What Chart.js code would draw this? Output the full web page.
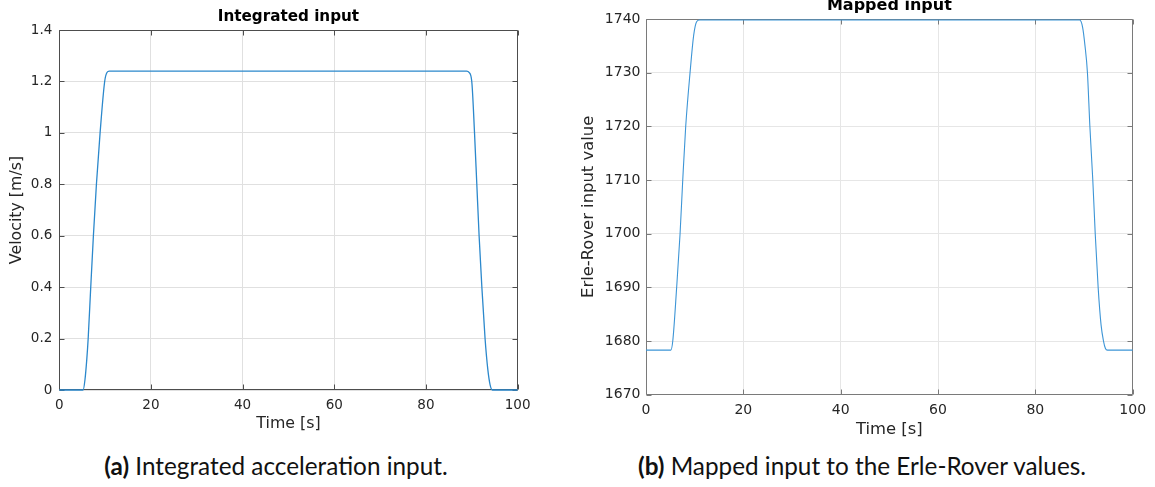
<!DOCTYPE html>
<html>
<head>
<meta charset="utf-8">
<script src="https://cdn.jsdelivr.net/npm/chart.js@4.4.1/dist/chart.umd.min.js"></script>
<style>
  html, body { margin: 0; padding: 0; background: #ffffff; width: 1155px; height: 487px; overflow: hidden; }
  #wrap { position: relative; width: 1155px; height: 487px; }
  canvas { position: absolute; }
  #c1 { left: 0px; top: 0px; }
  #c2 { left: 560px; top: -11px; }
  .cap { position: absolute; top: 450px; font-family: "Lato", "Open Sans", sans-serif; font-size: 24.3px; line-height: 32px; color: #111; white-space: nowrap; transform: translateX(-50%); }
  .cap b { font-weight: 700; }
</style>
</head>
<body>
<div id="wrap">
  <canvas id="c1" width="545" height="440"></canvas>
  <canvas id="c2" width="595" height="451"></canvas>
  <div class="cap" style="left:276px;"><b>(a)</b> Integrated acceleration input.</div>
  <div class="cap" style="left:862px;"><b>(b)</b> Mapped input to the Erle-Rover values.</div>
</div>
<script>
// ---- data ----
const timeA    = [0, 5.2, 5.6, 6.0, 6.3, 6.86, 7.44, 8.1, 8.9, 9.9, 10.4, 10.9, 88.9, 89.4, 90.0, 90.6, 91.1, 91.6, 92.2, 92.9, 93.5, 94.0, 94.5, 100];
const velocity = [0, 0, 0.04, 0.12, 0.2, 0.4, 0.6, 0.8, 1.0, 1.2, 1.235, 1.24, 1.24, 1.235, 1.2, 1.0, 0.8, 0.6, 0.4, 0.2, 0.08, 0.02, 0, 0];

const timeB  = [0, 5.1, 5.5, 6.3, 7.0, 7.55, 8.16, 9.05, 9.8, 10.4, 11.0, 89.1, 89.7, 90.2, 90.7, 91.2, 91.8, 92.3, 92.9, 93.5, 94.0, 94.4, 94.8, 100];
const mapped = [1678.3, 1678.3, 1680, 1690, 1700, 1710, 1720, 1730, 1737, 1739.5, 1739.8, 1739.8, 1738.5, 1735, 1730, 1720, 1710, 1700, 1690, 1683, 1680, 1678.6, 1678.3, 1678.3];

const xTicks  = [0, 20, 40, 60, 80, 100];
const yTicksA = [0, 0.2, 0.4, 0.6, 0.8, 1, 1.2, 1.4];
const yTicksB = [1670, 1680, 1690, 1700, 1710, 1720, 1730, 1740];

const titleA = "Integrated input", titleB = "Mapped input";
const xLabel = "Time [s]";
const yLabelA = "Velocity [m/s]", yLabelB = "Erle-Rover input value";

// ---- plugin: MATLAB-style box with inward ticks (drawn under the data line) ----
const boxPlugin = {
  id: 'box',
  beforeDatasetsDraw(chart, args, opts) {
    const {ctx, chartArea: a, scales} = chart;
    ctx.save();
    ctx.strokeStyle = opts.color;
    ctx.lineWidth = 1;
    const L = Math.round(a.left) + 0.5, R = Math.round(a.right) - 0.5;
    const T = Math.round(a.top) + 0.5, B = Math.round(a.bottom) - 0.5;
    ctx.beginPath();
    ctx.rect(L, T, R - L, B - T);
    const len = 5;
    scales.x.ticks.forEach(t => {
      const px = Math.round(scales.x.getPixelForValue(t.value)) + 0.5;
      ctx.moveTo(px, B); ctx.lineTo(px, B - len);
      ctx.moveTo(px, T); ctx.lineTo(px, T + len);
    });
    scales.y.ticks.forEach(t => {
      const py = Math.round(scales.y.getPixelForValue(t.value)) + 0.5;
      ctx.moveTo(L, py); ctx.lineTo(L + len, py);
      ctx.moveTo(R, py); ctx.lineTo(R - len, py);
    });
    ctx.stroke();
    ctx.restore();
  }
};

function makeChart(id, cfg) {
  const tickList = cfg.yTicks;
  return new Chart(document.getElementById(id), {
    type: 'line',
    data: {
      datasets: [{
        data: cfg.xs.map((t, i) => ({x: t, y: cfg.ys[i]})),
        borderColor: cfg.lineColor,
        borderWidth: cfg.lineWidth,
        pointRadius: 0,
        fill: false,
        clip: 3,
        cubicInterpolationMode: 'monotone'
      }]
    },
    options: {
      responsive: false,
      animation: false,
      devicePixelRatio: 1,
      layout: { padding: { left: 0, right: cfg.padRight, top: 0, bottom: 0 } },
      plugins: {
        legend: { display: false },
        tooltip: { enabled: false },
        title: {
          display: true, text: cfg.title, color: '#000', fullSize: false,
          font: { family: 'DejaVu Sans', size: cfg.titleSize, weight: 'bold' },
          padding: { top: cfg.titlePadTop, bottom: cfg.titlePadBottom }
        },
        box: { color: cfg.boxColor }
      },
      scales: {
        x: {
          type: 'linear', min: 0, max: 100,
          afterBuildTicks: s => { s.ticks = xTicks.map(v => ({value: v})); },
          afterFit: s => { s.height = cfg.xAxisH; },
          ticks: { color: '#262626', padding: cfg.xTickPad, maxRotation: 0,
                   font: { family: 'DejaVu Sans', size: cfg.tickSize }, callback: v => String(v) },
          grid: { color: cfg.gridColor, drawTicks: false, lineWidth: 1 },
          border: { display: false },
          title: { display: true, text: xLabel, color: '#262626',
                   font: { family: 'DejaVu Sans', size: cfg.labelSize },
                   padding: { top: 0, bottom: cfg.xTitlePadBottom } }
        },
        y: {
          type: 'linear', min: tickList[0], max: tickList[tickList.length - 1],
          afterBuildTicks: s => { s.ticks = tickList.map(v => ({value: v})); },
          afterFit: s => { s.width = cfg.yAxisW; },
          ticks: { color: '#262626', padding: cfg.yTickPad,
                   font: { family: 'DejaVu Sans', size: cfg.tickSize }, callback: v => String(v) },
          grid: { color: cfg.gridColor, drawTicks: false, lineWidth: 1 },
          border: { display: false },
          title: { display: true, text: cfg.yLabel, color: '#262626',
                   font: { family: 'DejaVu Sans', size: cfg.labelSize },
                   padding: { top: cfg.yTitlePadTop, bottom: 0 } }
        }
      }
    },
    plugins: [boxPlugin]
  });
}

makeChart('c1', {
  xs: timeA, ys: velocity, yTicks: yTicksA, title: titleA, yLabel: yLabelA,
  lineColor: '#2b88cc', lineWidth: 1.3, boxColor: '#4d4d4d', gridColor: '#e0e0e0',
  padRight: 27.4, titleSize: 15.2, titlePadTop: 8.4, titlePadBottom: 3.4,
  xAxisH: 50, yAxisW: 59.3, tickSize: 13.5, labelSize: 15.8,
  xTickPad: 6.9, yTickPad: 7, xTitlePadBottom: 6.5, yTitlePadTop: 7.5
});

makeChart('c2', {
  xs: timeB, ys: mapped, yTicks: yTicksB, title: titleB, yLabel: yLabelB,
  lineColor: '#3d95d6', lineWidth: 1.1, boxColor: '#7a7a7a', gridColor: '#e6e6e6',
  padRight: 22.3, titleSize: 16, titlePadTop: 7.4, titlePadBottom: 3.4,
  xAxisH: 45.3, yAxisW: 86, tickSize: 14, labelSize: 16.4,
  xTickPad: 7, yTickPad: 5.5, xTitlePadBottom: 0.2, yTitlePadTop: 18.5
});
</script>
</body>
</html>
